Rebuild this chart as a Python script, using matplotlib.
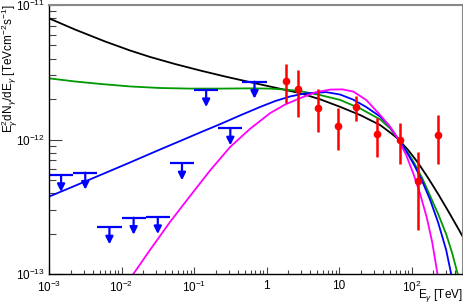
import numpy as np
import matplotlib
matplotlib.use("Agg")
from matplotlib import pyplot as plt
from matplotlib.ticker import FixedLocator, FixedFormatter, LogLocator, NullFormatter

plt.rcParams['font.family'] = ['Liberation Sans', 'DejaVu Sans']
plt.rcParams['mathtext.fontset'] = 'custom'
plt.rcParams['mathtext.rm'] = 'Liberation Sans'
plt.rcParams['mathtext.it'] = 'Liberation Sans:italic'

########## Données ##########

# modèles
black_E = [1e-3, 2.284e-3, 5.91e-3, 0.0131, 0.0247, 0.0547, 0.121, 0.2677, 0.591, 1.31, 2.90, 5.47,
           10.3, 19.5, 36.8, 50.5, 65.1, 89.5, 122.9, 168.9, 232.1, 318.7, 437.9, 513]
black_F = [7.96e-12, 6.57e-12, 5.36e-12, 4.59e-12, 4.11e-12, 3.64e-12, 3.26e-12, 2.94e-12, 2.67e-12,
           2.43e-12, 2.21e-12, 1.99e-12, 1.75e-12, 1.52e-12, 1.28e-12, 1.127e-12, 1.01e-12, 8.35e-13,
           6.69e-13, 5.17e-13, 3.93e-13, 2.94e-13, 2.18e-13, 1.87e-13]

green_E = [1e-3, 2.284e-3, 5.05e-3, 0.0131, 0.034, 0.0881, 0.2284, 0.591, 1.118, 1.80, 2.90, 5.47,
           10.3, 19.5, 36.8, 50.5, 65.1, 84.0, 108.3, 139.6, 180.0, 232.1, 299, 362, 431]
green_F = [2.85e-12, 2.70e-12, 2.59e-12, 2.48e-12, 2.415e-12, 2.39e-12, 2.39e-12, 2.40e-12, 2.39e-12,
           2.35e-12, 2.29e-12, 2.14e-12, 1.97e-12, 1.70e-12, 1.41e-12, 1.21e-12, 1.01e-12, 8.35e-13,
           6.69e-13, 5.17e-13, 3.80e-13, 2.79e-13, 1.98e-13, 1.43e-13, 1.0e-13]

blue_E = [1e-3, 2.284e-3, 5.05e-3, 0.0131, 0.034, 0.0641, 0.121, 0.2284, 0.431, 0.813, 1.31, 2.11,
          3.396, 6.62, 10.3, 15.6, 23.6, 36.8, 48.9, 65.1, 84.0, 108.3, 139.6, 180.0, 232.1, 299, 350.6]
blue_F = [3.76e-13, 4.53e-13, 5.43e-13, 6.75e-13, 8.43e-13, 9.74e-13, 1.127e-12, 1.30e-12, 1.51e-12,
          1.745e-12, 1.93e-12, 2.09e-12, 2.20e-12, 2.25e-12, 2.16e-12, 1.98e-12, 1.745e-12, 1.48e-12,
          1.27e-12, 1.01e-12, 8.21e-13, 6.46e-13, 4.91e-13, 3.55e-13, 2.41e-13, 1.51e-13, 1.0e-13]

magenta_E = [0.01455, 0.0247, 0.0467, 0.0881, 0.166, 0.3137, 0.591, 1.118, 1.80, 2.90, 4.667, 7.51,
             11.0, 15.7, 23.6, 36.8, 50.5, 65.1, 84.0, 105.9, 131.0, 162.1, 191.8, 227]
magenta_F = [1.0e-13, 1.51e-13, 2.44e-13, 3.80e-13, 5.88e-13, 8.79e-13, 1.20e-12, 1.57e-12, 1.82e-12,
             2.03e-12, 2.24e-12, 2.35e-12, 2.36e-12, 2.27e-12, 1.97e-12, 1.52e-12, 1.24e-12, 1.01e-12,
             7.67e-13, 5.54e-13, 3.93e-13, 2.61e-13, 1.73e-13, 1.0e-13]

# points de mesure
pts_E = [1.84, 2.75, 5.08, 9.8, 17, 33.8, 68.7, 124, 232]
pts_F = [2.72e-12, 2.39e-12, 1.72e-12, 1.27e-12, 1.74e-12, 1.09e-12, 9.9e-13, 4.94e-13, 1.08e-12]
pts_lo = [1.88e-12, 1.48e-12, 1.14e-12, 8.36e-13, 1.37e-12, 7.45e-13, 6.54e-13, 2.12e-13, 6.57e-13]
pts_hi = [3.62e-12, 3.29e-12, 2.36e-12, 1.71e-12, 2.11e-12, 1.44e-12, 1.32e-12, 8.03e-13, 1.52e-12]

# limites supérieures
ul_edges = [10 ** (-3 + k / 3) for k in range(10)]
ul_F = [5.45e-13, 5.67e-13, 2.22e-13, 2.62e-13, 2.65e-13, 6.65e-13, 2.33e-12, 1.21e-12, 2.69e-12]

x_ticks = [1e-3, 1e-2, 1e-1, 1, 10, 100]
x_labels = ['$10^{-3}$', '$10^{-2}$', '$10^{-1}$', '1', '10', '$10^{2}$']
y_ticks = [1e-13, 1e-12, 1e-11]
y_labels = ['$10^{-13}$', '$10^{-12}$', '$10^{-11}$']

########## Graphe ##########

fig = plt.figure(figsize=(4.64, 3.03), dpi=100)
ax = fig.add_axes([0.1056, 0.0957, 0.8922, 0.8878])

ax.plot(black_E, black_F, color='black', lw=1.3)
ax.plot(green_E, green_F, color='#009900', lw=1.3)
ax.plot(blue_E, blue_F, color='blue', lw=1.3)
ax.plot(magenta_E, magenta_F, color='magenta', lw=1.3)

pts_F = np.array(pts_F)
yerr = [pts_F - np.array(pts_lo), np.array(pts_hi) - pts_F]
ax.errorbar(pts_E, pts_F, yerr=yerr, fmt='o', color='red', ms=4.5, elinewidth=1.8, capsize=0)

for i, f in enumerate(ul_F):
    lo, hi = ul_edges[i], ul_edges[i + 1]
    xc = np.sqrt(lo * hi)
    ax.hlines(f, lo, hi, color='blue', lw=1.6)
    ax.annotate('', xy=(xc, f * 0.748), xytext=(xc, f),
                arrowprops=dict(arrowstyle='-|>', color='blue', lw=1.6,
                                mutation_scale=11, shrinkA=0, shrinkB=0))

ax.set_xscale('log')
ax.set_yscale('log')
ax.set_xlim(1e-3, 510)
ax.set_ylim(1e-13, 1e-11)

ax.xaxis.set_major_locator(FixedLocator(x_ticks))
ax.xaxis.set_major_formatter(FixedFormatter(x_labels))
ax.xaxis.set_minor_locator(LogLocator(base=10, subs=np.arange(2, 10)))
ax.xaxis.set_minor_formatter(NullFormatter())
ax.yaxis.set_major_locator(FixedLocator(y_ticks))
ax.yaxis.set_major_formatter(FixedFormatter(y_labels))
ax.yaxis.set_minor_locator(LogLocator(base=10, subs=np.arange(2, 10)))
ax.yaxis.set_minor_formatter(NullFormatter())

ax.tick_params(axis='x', which='major', direction='in', length=5, width=0.8, color='#444444',
               labelsize=8.5, pad=4)
ax.tick_params(axis='x', which='minor', direction='in', length=3, width=0.8, color='#444444')
ax.tick_params(axis='y', which='major', direction='in', length=9, width=0.8, color='#444444',
               labelsize=8.5, pad=3)
ax.tick_params(axis='y', which='minor', direction='in', length=5, width=0.8, color='#444444')

for s in ['top', 'right']:
    ax.spines[s].set_color('#888888')
    ax.spines[s].set_linewidth(1.5)
for s in ['left', 'bottom']:
    ax.spines[s].set_color('black')
    ax.spines[s].set_linewidth(1.0)

fig.text(0.021, 0.985, r'E$_{\gamma}^{2}$dN$_{\gamma}$/dE$_{\gamma}$ [TeVcm$^{-2}$s$^{-1}$]',
         rotation=90, ha='center', va='top', fontsize=8.5)
fig.text(0.997, 0.025, r'E$_{\gamma}$ [TeV]', ha='right', va='center', fontsize=8.5)

fig.savefig('out.png', dpi=100)
